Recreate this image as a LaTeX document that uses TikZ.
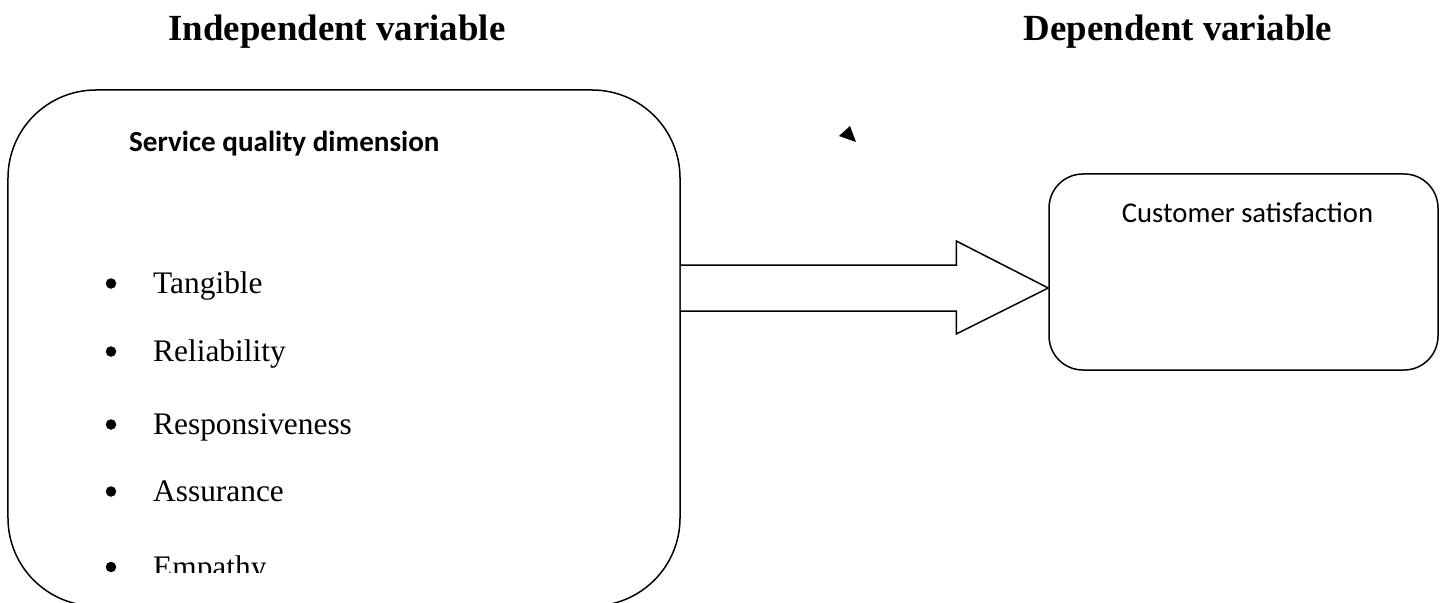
\documentclass[tikz,border=0pt]{standalone}
\usepackage{fontspec}
\setmainfont{Liberation Serif}
\newfontfamily\calibri{Carlito}
\usetikzlibrary{calc}
\tikzset{
  box/.style={draw, line width=1.5bp, inner sep=0pt},
  title/.style={anchor=base, inner sep=0pt, font=\fontsize{37}{44}\selectfont\bfseries},
  item/.style={anchor=base west, inner sep=0pt, font=\fontsize{31.5}{38}\selectfont},
  dot/.style={fill=black, draw=none, circle, minimum size=10.5bp, inner sep=0pt},
  blockarrow/.style={draw, line width=1.5bp, line join=miter, fill=white}
}
\begin{document}
\begin{tikzpicture}[x=1bp,y=-1bp]
\useasboundingbox (0,0) rectangle (1445,603);
% titles
\node[title] (tiv) at (337,41) {Independent variable};
\node[title] (tdv) at (1178,41) {Dependent variable};
% left box
\node[box, rounded corners=88bp, minimum width=672bp, minimum height=516bp] (iv) at (344,348) {};
\node[anchor=base west, inner sep=0pt, font=\calibri\fontsize{29.2}{34}\selectfont\bfseries] (sq) at (129,152) {Service quality dimension};
% items
\foreach \name/\txt/\yy in {i1/Tangible/293, i2/Reliability/361, i3/Responsiveness/434, i4/Assurance/501}{
  \node[dot] (\name d) at (111,\yy-9.5) {};
  \node[item] (\name) at (153,\yy) {\txt};
}
\begin{scope}
\clip (0,0) rectangle (1445,572);
\node[dot] (i5d) at (111,567) {};
\node[item] (i5) at (153,577) {Empathy};
\end{scope}
% right box
\node[box, rounded corners=34bp, minimum width=389bp, minimum height=196bp] (dv) at (1243.5,272) {};
\node[anchor=base, inner sep=0pt, font=\calibri\fontsize{28.8}{34}\selectfont] (cs) at (1247.5,222) {Customer satisfaction};
% block arrow
\coordinate (a0) at (iv.east |- 0,288);
\coordinate (tip) at (dv.west |- 0,288);
\draw[blockarrow] ($(a0)+(0,-23)$) -- ($(tip)+(-92,-23)$) -- ($(tip)+(-92,-47)$) -- (tip)
  -- ($(tip)+(-92,46)$) -- ($(tip)+(-92,23)$) -- ($(a0)+(0,23)$);
% stray arrowhead
\coordinate (s1) at (850,126);
\coordinate (s2) at (839,136);
\coordinate (s3) at (856,142);
\fill (s1) -- (s2) -- (s3) -- cycle;
\end{tikzpicture}
\end{document}
